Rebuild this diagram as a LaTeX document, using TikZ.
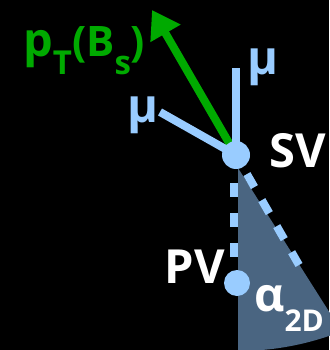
\documentclass[tikz,border=0pt]{standalone}
\usepackage{fontspec}
\setmainfont{Open Sans}
\usetikzlibrary{arrows.meta,backgrounds}
\definecolor{mublue}{HTML}{99CCFF}
\definecolor{bsgreen}{HTML}{00AA00}
\definecolor{coneslate}{HTML}{4A6581}

\begin{document}
\begin{tikzpicture}[x=1pt, y=-1pt,
  vtx/.style={circle, fill=mublue, inner sep=0pt, minimum size=28pt},
  lbl/.style={inner sep=0pt, font=\fontsize{47}{50}\selectfont\bfseries, text=white},
  mulbl/.style={lbl, text=mublue},
  track/.style={line width=8pt, draw=mublue},
  flight/.style={line width=8pt, draw=mublue, dash pattern=on 14pt off 16pt},
  mom/.style={line width=8pt, draw=bsgreen, -{Triangle[length=27pt, width=33pt]}}
]
  \useasboundingbox (0,0) rectangle (329,350);
  % vertices
  \node[vtx] (sv) at (236,155) {};
  \node[vtx, minimum size=26pt] (pv) at (237,283) {};
  \coordinate (muup) at (236,68);
  \coordinate (muleft) at (160,112);
  \coordinate (ptip) at (152,10);
  \coordinate (coneend) at (299,265);

  % labels
  \node[lbl, anchor=base west] (svlbl) at (269,167) {SV};
  \node[lbl, anchor=base east] (pvlbl) at (225,283) {PV};
  \node[mulbl, anchor=base west] (mutop) at (247,75) {μ};
  \node[mulbl, anchor=base west] (muside) at (127,122) {μ};
  \node[lbl, anchor=base west] (alphalbl) at (254,311) {α\raisebox{-20pt}{\fontsize{30}{34}\selectfont 2D}};
  \node[lbl, text=bsgreen, anchor=base west] (ptlbl) at (23,57)
    {p\raisebox{-18pt}{\fontsize{33}{40}\selectfont T}{\fontsize{42}{50}\selectfont (B}\raisebox{-18pt}{\fontsize{33}{40}\selectfont s}{\fontsize{42}{50}\selectfont )}};

  \begin{scope}[on background layer]
    \fill[black] (0,0) rectangle (329,350);
    % opening angle
    \begin{scope}
      \clip (238,168) -- (238,400) -- (380,392) -- cycle;
      \fill[coneslate] (238,70) circle[radius=281];
    \end{scope}
    \draw[flight, dash phase=2pt] ([xshift=-2pt]sv.center) -- ([xshift=-3pt]pv.center);
    \draw[flight, dash pattern=on 15pt off 15pt, dash phase=8pt] (sv.center) -- (coneend);
    \draw[mom] (sv.center) -- (ptip);
    \draw[track] (sv.center) -- (muup);
    \draw[track] (sv.center) -- (muleft);
  \end{scope}
\end{tikzpicture}
\end{document}
